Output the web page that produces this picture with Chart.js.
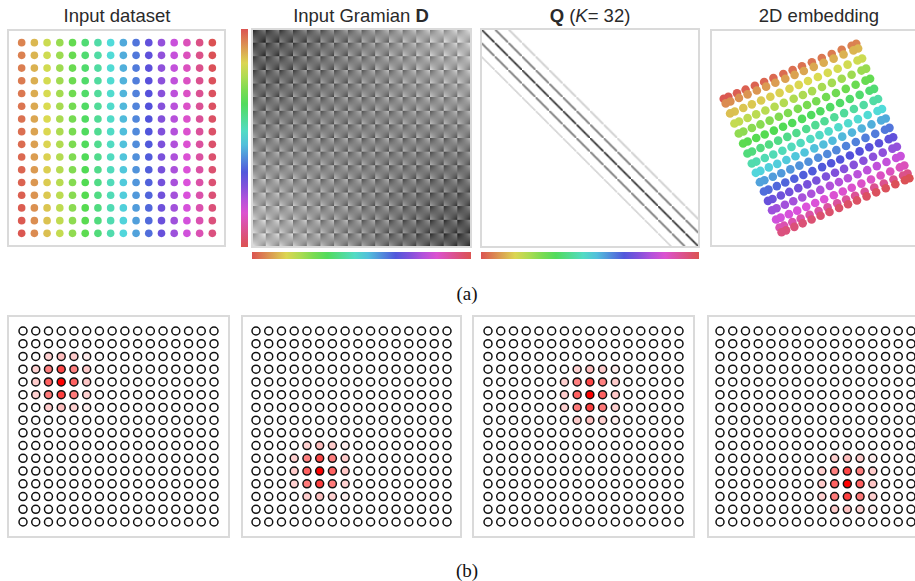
<!DOCTYPE html>
<html>
<head>
<meta charset="utf-8">
<title>Input dataset, Gramian, Q and 2D embedding</title>
<script src="https://cdn.jsdelivr.net/npm/chart.js@4.4.1/dist/chart.umd.min.js"></script>
<style>
  body { margin: 0; width: 915px; height: 581px; overflow: hidden; position: relative; background: #fff; font-family: "Liberation Sans", Arial, sans-serif; }
  canvas, .frame, .title, .label { position: absolute; }
  .frame { border: 2px solid #dadada; box-sizing: border-box; }
  .title { width: 240px; text-align: center; font-size: 18.5px; line-height: 20px; color: #2a2a2a; top: 6px; white-space: nowrap; }
  .label { width: 60px; text-align: center; font-family: "Liberation Serif", "Times New Roman", serif; font-size: 19px; line-height: 20px; color: #111; left: 437px; }
</style>
</head>
<body>
<div class="title" style="left:-3px">Input dataset</div>
<div class="title" style="left:241px">Input Gramian <b>D</b></div>
<div class="title" style="left:470px"><b>Q</b> (<i>K</i>= 32)</div>
<div class="title" style="left:699px">2D embedding</div>

<canvas id="cData" width="218" height="218" style="left:8px;top:29px"></canvas>
<canvas id="cGram" width="232" height="233" style="left:240px;top:28px"></canvas>
<canvas id="cQ" width="221" height="233" style="left:480px;top:28px"></canvas>
<canvas id="cEmbed" width="219" height="218" style="left:711px;top:29px"></canvas>

<div class="frame" style="left:7px;top:29px;width:219px;height:218px"></div>
<div class="frame" style="left:251px;top:28px;width:221px;height:220px"></div>
<div class="frame" style="left:480px;top:28px;width:220px;height:220px"></div>
<div class="frame" style="left:710px;top:29px;width:221px;height:218px"></div>

<div class="label" style="top:284px">(a)</div>

<canvas id="cB0" width="221" height="221" style="left:8px;top:316px"></canvas>
<canvas id="cB1" width="221" height="221" style="left:241px;top:316px"></canvas>
<canvas id="cB2" width="221" height="221" style="left:473px;top:316px"></canvas>
<canvas id="cB3" width="221" height="221" style="left:705px;top:316px"></canvas>

<div class="frame" style="left:7px;top:315px;width:223px;height:223px"></div>
<div class="frame" style="left:241px;top:315px;width:221px;height:223px"></div>
<div class="frame" style="left:472px;top:315px;width:223px;height:223px"></div>
<div class="frame" style="left:707px;top:315px;width:223px;height:223px"></div>

<div class="label" style="top:561px">(b)</div>

<script>
// rows / columns of the 16 x 16 input grid
const gridIdx = [0, 1, 2, 3, 4, 5, 6, 7, 8, 9, 10, 11, 12, 13, 14, 15]

// neighbourhood weights of one point (row offset, column offset, weight)
const kernelDr = [-2, -2, -2, -2, -1, -1, -1, -1, -1, 0, 0, 0, 0, 0, 1, 1, 1, 1, 1, 2, 2, 2, 2]
const kernelDc = [-1, 0, 1, 2, -2, -1, 0, 1, 2, -2, -1, 0, 1, 2, -2, -1, 0, 1, 2, -1, 0, 1, 2]
const kernelW = [0.18, 0.25, 0.2, 0.07, 0.18, 0.5, 0.72, 0.5, 0.2, 0.2, 0.62, 1, 0.62, 0.22, 0.18, 0.52, 0.75, 0.52, 0.18, 0.2, 0.24, 0.18, 0.06]

// centre point of each panel in (b)
const centreRows = [4, 11, 5, 12]
const centreCols = [3, 5, 8, 10]

// 2D embedding: where each grid row / column sits between the two edges (0..1)
const embedRowPos = [0, 0.035, 0.11, 0.185, 0.26, 0.335, 0.41, 0.48, 0.55, 0.625, 0.695, 0.765, 0.835, 0.9, 0.965, 1]
const embedColPos = [0, 0.035, 0.11, 0.185, 0.26, 0.335, 0.41, 0.485, 0.555, 0.625, 0.695, 0.765, 0.835, 0.905, 0.965, 1]
// embedding corners: (row 0, col 0), (row 15, col 0), (row 15, col 15), (row 0, col 15)
const embedCornerX = [0.34, -0.92, -0.37, 0.845]
const embedCornerY = [0.9, 0.375, -0.9, -0.385]

const n = gridIdx.length
const N = n * n
const mid = (n - 1) / 2

function hueOf(r, c) {
  return ((22 + 22.5 * c - 1.3 * r) % 360 + 360) % 360
}
function pointColour(r, c) {
  return `hsl(${hueOf(r, c).toFixed(1)}, 66%, 59%)`
}

// matrix order: column by column (that is the hue order of the colour bars)
let order = []
for (let c of gridIdx) for (let r of gridIdx) order.push([r, c])

function baseOptions(xMin, xMax, yMin, yMax, reverseY, padding) {
  return {
    responsive: false,
    animation: false,
    events: [],
    layout: { padding: padding || 0 },
    plugins: { legend: { display: false }, tooltip: { enabled: false } },
    scales: {
      x: { type: 'linear', display: false, min: xMin, max: xMax },
      y: { type: 'linear', display: false, min: yMin, max: yMax, reverse: reverseY }
    }
  }
}

// draws a N x N matrix as a grey image inside the scales
function matrixPlugin(id, values, toGrey) {
  return {
    id: id,
    beforeDatasetsDraw(chart) {
      let off = document.createElement('canvas')
      off.width = N
      off.height = N
      let octx = off.getContext('2d')
      let img = octx.createImageData(N, N)
      for (let k = 0; k < N * N; k++) {
        let g = toGrey(values[k])
        img.data[4 * k] = g
        img.data[4 * k + 1] = g
        img.data[4 * k + 2] = g
        img.data[4 * k + 3] = 255
      }
      octx.putImageData(img, 0, 0)
      let x = chart.scales.x, y = chart.scales.y
      let x0 = x.getPixelForValue(-0.5), x1 = x.getPixelForValue(N - 0.5)
      let y0 = y.getPixelForValue(-0.5), y1 = y.getPixelForValue(N - 0.5)
      let ctx = chart.ctx
      ctx.save()
      ctx.imageSmoothingEnabled = true
      ctx.drawImage(off, x0, y0, x1 - x0, y1 - y0)
      ctx.restore()
    }
  }
}

// hue colour bars along the matrix axes (one hue turn over the 16 columns)
function colourBarPlugin(id, left) {
  return {
    id: id,
    afterDraw(chart) {
      let ctx = chart.ctx
      let x = chart.scales.x, y = chart.scales.y
      let x0 = x.getPixelForValue(-0.5), x1 = x.getPixelForValue(N - 0.5)
      let y0 = y.getPixelForValue(-0.5), y1 = y.getPixelForValue(N - 0.5)
      let gx = ctx.createLinearGradient(x0, 0, x1, 0)
      let gy = ctx.createLinearGradient(0, y0, 0, y1)
      gx.addColorStop(0, pointColour(mid, -0.5))
      gy.addColorStop(0, pointColour(mid, -0.5))
      gridIdx.forEach(c => {
        gx.addColorStop((c + 0.5) / n, pointColour(mid, c))
        gy.addColorStop((c + 0.5) / n, pointColour(mid, c))
      })
      gx.addColorStop(1, pointColour(mid, n - 0.5))
      gy.addColorStop(1, pointColour(mid, n - 0.5))
      ctx.save()
      ctx.fillStyle = gx
      ctx.fillRect(x0, y1 + 5, x1 - x0, 7)
      if (left) {
        ctx.fillStyle = gy
        ctx.fillRect(x0 - 11, y0, 7, y1 - y0)
      }
      ctx.restore()
    }
  }
}

// ---- input dataset
let dataPts = [], dataColours = []
for (let c of gridIdx) for (let r of gridIdx) {
  dataPts.push({ x: c, y: r })
  dataColours.push(pointColour(r, c))
}
new Chart(document.getElementById('cData'), {
  type: 'scatter',
  data: { datasets: [{ data: dataPts, pointRadius: 3.8, pointBackgroundColor: dataColours, pointBorderWidth: 0 }] },
  options: baseOptions(-0.76, 15.76, -0.76, 15.76, true)
})

// ---- input Gramian D (inner products of the centred grid coordinates)
let gram = new Float32Array(N * N)
order.forEach(([ri, ci], i) => {
  order.forEach(([rj, cj], j) => {
    gram[i * N + j] = (ci - mid) * (cj - mid) + (ri - mid) * (rj - mid)
  })
})
let gMax = 2 * mid * mid
new Chart(document.getElementById('cGram'), {
  type: 'scatter',
  data: { datasets: [] },
  options: baseOptions(-0.5, N - 0.5, -0.5, N - 0.5, true, { left: 12, top: 1, right: 1, bottom: 14 }),
  plugins: [
    matrixPlugin('gramImage', gram, v => Math.round(132 - 105 * v / gMax)),
    colourBarPlugin('gramBars', true)
  ]
})

// ---- Q: neighbourhood weights of every point
let qMat = new Float32Array(N * N)
order.forEach(([r, c], i) => {
  kernelDr.forEach((dr, k) => {
    let rr = r + dr, cc = c + kernelDc[k]
    if (rr < 0 || rr >= n || cc < 0 || cc >= n) return
    qMat[i * N + cc * n + rr] = kernelW[k]
  })
})
new Chart(document.getElementById('cQ'), {
  type: 'scatter',
  data: { datasets: [] },
  options: baseOptions(-0.5, N - 0.5, -0.5, N - 0.5, true, { left: 1, top: 1, right: 2, bottom: 14 }),
  plugins: [
    matrixPlugin('qImage', qMat, v => Math.round(255 - 200 * v)),
    colourBarPlugin('qBars', false)
  ]
})

// ---- 2D embedding
let embedPts = [], embedColours = []
for (let c of gridIdx) for (let r of gridIdx) {
  let u = embedRowPos[r], v = embedColPos[c]
  let w = [(1 - u) * (1 - v), u * (1 - v), u * v, (1 - u) * v]
  embedPts.push({
    x: w.reduce((s, wk, k) => s + wk * embedCornerX[k], 0),
    y: w.reduce((s, wk, k) => s + wk * embedCornerY[k], 0)
  })
  embedColours.push(pointColour(r, c))
}
new Chart(document.getElementById('cEmbed'), {
  type: 'scatter',
  data: { datasets: [{ data: embedPts, pointRadius: 4.3, pointBackgroundColor: embedColours, pointBorderWidth: 0 }] },
  options: baseOptions(-1, 1, -1, 1, false)
})

// ---- (b) neighbourhoods
centreRows.forEach((cr, b) => {
  let cc = centreCols[b]
  let pts = [], fills = []
  for (let r of gridIdx) for (let c of gridIdx) {
    let w = 0
    kernelDr.forEach((dr, k) => {
      if (r - cr == dr && c - cc == kernelDc[k]) w = kernelW[k]
    })
    pts.push({ x: c, y: r })
    let gb = Math.round(255 * (1 - w))
    fills.push(`rgb(255, ${gb}, ${gb})`)
  }
  new Chart(document.getElementById('cB' + b), {
    type: 'scatter',
    data: { datasets: [{ data: pts, pointRadius: 4, pointBackgroundColor: fills, pointBorderColor: '#111', pointBorderWidth: 1.5 }] },
    options: baseOptions(-0.746, 15.746, -0.746, 15.746, true)
  })
})
</script>
</body>
</html>
